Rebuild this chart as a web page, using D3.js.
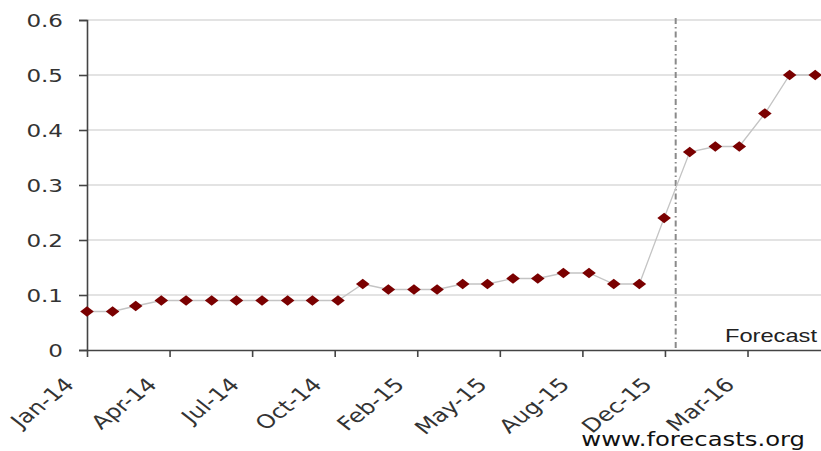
<!DOCTYPE html>
<html>
<head>
<meta charset="utf-8">
<script src="https://cdn.jsdelivr.net/npm/d3@7"></script>
<style>
  body { margin: 0; background: #fff; }
  svg { display: block; }
  .grid line { stroke: #c8c8c8; stroke-width: 1.2; }
  .axis path, .axis line { stroke: #444; stroke-width: 1.6; }
  .axis text, .note { font-family: "DejaVu Sans", Verdana, sans-serif; }
</style>
</head>
<body>
<script>
(function(){

//monthly observations, Jan-14 .. Jun-16
var months = ["2014-01","2014-02","2014-03","2014-04","2014-05","2014-06","2014-07","2014-08","2014-09","2014-10","2014-11","2014-12",
              "2015-01","2015-02","2015-03","2015-04","2015-05","2015-06","2015-07","2015-08","2015-09","2015-10","2015-11","2015-12",
              "2016-01","2016-02","2016-03","2016-04","2016-05","2016-06"];
var values = [0.07,0.07,0.08,0.09,0.09,0.09,0.09,0.09,0.09,0.09,0.09,0.12,
              0.11,0.11,0.11,0.12,0.12,0.13,0.13,0.14,0.14,0.12,0.12,0.24,
              0.36,0.37,0.37,0.43,0.50,0.50];

//x ticks every 100 days, as the original axis
var xTicks = ["2014-01-01","2014-04-11","2014-07-20","2014-10-28","2015-02-05","2015-05-16","2015-08-24","2015-12-02","2016-03-11"];
var yTicks = [0, 0.1, 0.2, 0.3, 0.4, 0.5, 0.6];
var forecastStart = "2015-12-15";

var width = 821, height = 451;
var margin = {top: 20, right: 0, bottom: 101, left: 87};
var stretch = 1.28; //the original picture is widened, text and markers too

var parseMonth = d3.timeParse("%Y-%m");
var parseDay = d3.timeParse("%Y-%m-%d");
var fmt = d3.timeFormat("%b-%y");

var data = months.map(function(m, i){ return {date: parseMonth(m), value: values[i]}; });

var svg = d3.select("body").append("svg")
    .attr("width", width)
    .attr("height", height);

var x = d3.scaleTime()
    .domain([parseDay("2014-01-01"), parseDay("2016-06-08")])
    .range([margin.left, width - margin.right]);

var y = d3.scaleLinear()
    .domain([0, 0.6])
    .range([height - margin.bottom, margin.top]);

//horizontal gridlines
svg.append("g")
    .attr("class", "grid")
    .selectAll("line")
    .data(yTicks.slice(1))
    .enter()
    .append("line")
    .attr("x1", margin.left)
    .attr("x2", width)
    .attr("y1", function(d){ return y(d); })
    .attr("y2", function(d){ return y(d); });

//forecast divider
svg.append("line")
    .attr("x1", x(parseDay(forecastStart)))
    .attr("x2", x(parseDay(forecastStart)))
    .attr("y1", y(0.6) - 2)
    .attr("y2", y(0))
    .attr("stroke", "#8a8a8a")
    .attr("stroke-width", 2)
    .attr("stroke-dasharray", "6,3,1.5,3");

svg.append("text")
    .attr("transform", "translate(817," + (y(0) - 8) + ") scale(" + stretch + ",1)")
    .attr("text-anchor", "end")
    .style("font-family", "'Liberation Sans', Arial, sans-serif")
    .style("font-size", "18.5px")
    .attr("fill", "#222")
    .text("Forecast");

//y axis
var yAxis = svg.append("g")
    .attr("class", "axis")
    .attr("transform", "translate(" + margin.left + ",0)")
    .call(d3.axisLeft(y).tickValues(yTicks).tickFormat(d3.format("")).tickSize(8));

yAxis.selectAll("text")
    .attr("x", 0)
    .attr("dy", "0.36em")
    .attr("transform", "translate(-24,0) scale(" + stretch + ",1)")
    .style("font-size", "18px")
    .attr("fill", "#333");

//x axis
var xAxis = svg.append("g")
    .attr("class", "axis")
    .attr("transform", "translate(0," + y(0) + ")")
    .call(d3.axisBottom(x).tickValues(xTicks.map(parseDay)).tickFormat(fmt).tickSize(7).tickSizeOuter(0));

xAxis.selectAll("text")
    .attr("x", 0)
    .attr("y", 0)
    .attr("dy", 0)
    .attr("text-anchor", "end")
    .attr("transform", "translate(-12,36) scale(" + stretch + ",1) rotate(-45)")
    .style("font-size", "19px")
    .attr("fill", "#333");

//series line and diamond markers
var line = d3.line()
    .x(function(d){ return x(d.date); })
    .y(function(d){ return y(d.value); });

svg.append("path")
    .datum(data)
    .attr("d", line)
    .attr("fill", "none")
    .attr("stroke", "#c4c4c4")
    .attr("stroke-width", 1.3);

svg.selectAll(".pt")
    .data(data)
    .enter()
    .append("path")
    .attr("class", "pt")
    .attr("d", d3.symbol().type(d3.symbolDiamond2).size(72))
    .attr("transform", function(d){ return "translate(" + x(d.date) + "," + y(d.value) + ") scale(" + stretch + ",1)"; })
    .attr("fill", "#7a0000");

//source note
svg.append("text")
    .attr("class", "note")
    .attr("transform", "translate(805,446) scale(" + stretch + ",1)")
    .attr("text-anchor", "end")
    .style("font-size", "19px")
    .attr("fill", "#111")
    .text("www.forecasts.org");

})();
</script>
</body>
</html>
